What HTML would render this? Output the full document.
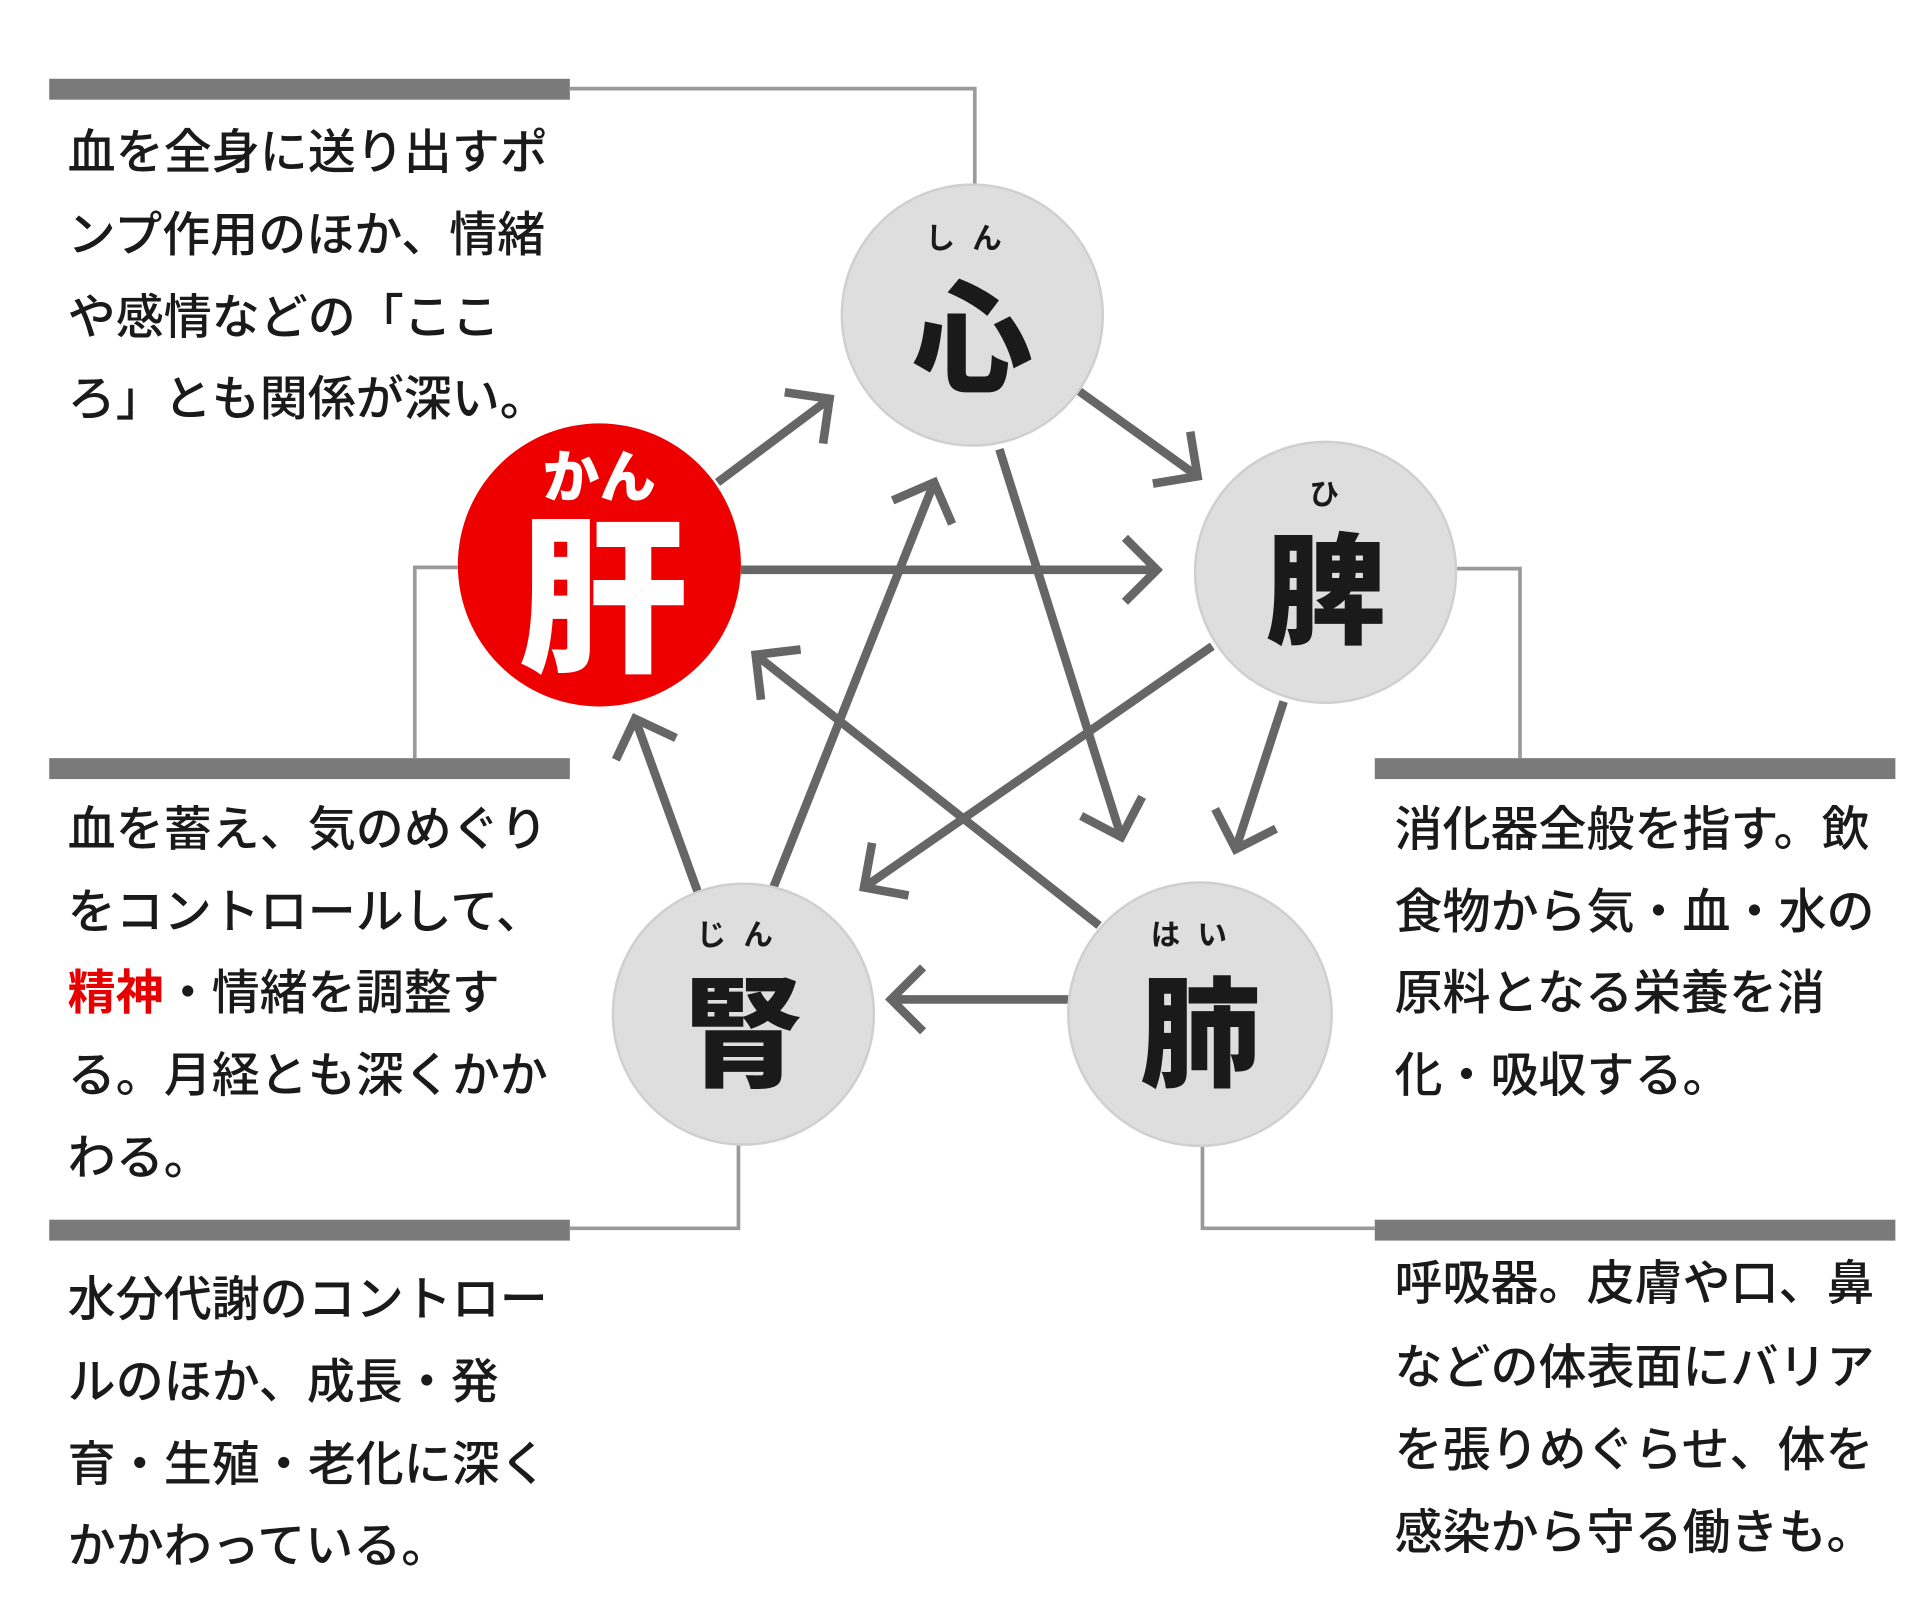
<!DOCTYPE html>
<html><head><meta charset="utf-8"><style>
html,body{margin:0;padding:0;background:#fff;width:1920px;height:1600px;overflow:hidden}
svg{display:block}
text{font-family:"Liberation Sans","Noto Sans CJK JP",sans-serif;}
.t{font-size:39px;font-weight:500;fill:#1a1a1a}
.k{font-size:98px;font-weight:900;fill:#1a1a1a}
.f{font-size:24px;font-weight:700;fill:#1a1a1a;letter-spacing:14px}
</style></head><body>
<svg width="1920" height="1600" viewBox="0 0 1560 1300" preserveAspectRatio="none" xmlns="http://www.w3.org/2000/svg">
<defs>
<marker id="a" markerUnits="userSpaceOnUse" markerWidth="60" markerHeight="60" refX="30" refY="30" orient="auto" viewBox="0 0 60 60">
<path d="M4 4 L30 30 L4 56" fill="none" stroke="#666" stroke-width="7"/>
</marker>
</defs>
<g fill="#7a7a7a">
<rect x="40" y="64" width="423" height="17"/>
<rect x="40" y="616" width="423" height="17"/>
<rect x="40" y="991" width="423" height="17"/>
<rect x="1117" y="616" width="423" height="17"/>
<rect x="1117" y="991" width="423" height="17"/>
</g>
<g fill="none" stroke="#9a9a9a" stroke-width="3">
<polyline points="463,72 792,72 792,152"/>
<polyline points="372,461 337,461 337,616"/>
<polyline points="463,998 600,998 600,930"/>
<polyline points="1182,462 1235,462 1235,616"/>
<polyline points="977,930 977,998 1117,998"/>
</g>
<g stroke="#666" stroke-width="7" fill="none" marker-end="url(#a)">
<line x1="583" y1="392" x2="674" y2="324"/>
<line x1="877" y1="318" x2="973" y2="387"/>
<line x1="602" y1="463" x2="940" y2="463"/>
<line x1="985" y1="525" x2="702" y2="721"/>
<line x1="1043" y1="570" x2="1004" y2="690"/>
<line x1="812" y1="365" x2="911" y2="680"/>
<line x1="893" y1="752" x2="614" y2="532"/>
<line x1="628" y1="722" x2="759" y2="392"/>
<line x1="567" y1="725" x2="516" y2="584"/>
<line x1="868" y1="812" x2="724" y2="812"/>
</g>
<g fill="#dedede" stroke="#cfcfcf" stroke-width="2">
<circle cx="790" cy="256" r="106"/>
<circle cx="1077" cy="465" r="106"/>
<circle cx="604" cy="824" r="106"/>
<circle cx="975" cy="824" r="107"/>
</g>
<circle cx="487" cy="459" r="115" fill="#ee0000"/>
<text class="f" x="752" y="202">しん</text>
<text class="k" x="790" y="310" text-anchor="middle">心</text>
<text class="f" x="1064" y="410">ひ</text>
<text class="k" x="1077" y="515" text-anchor="middle">脾</text>
<text class="f" x="566" y="768">じん</text>
<text class="k" x="604" y="875" text-anchor="middle">腎</text>
<text class="f" x="935" y="768">はい</text>
<text class="k" x="975" y="875" text-anchor="middle">肺</text>
<text x="487" y="404" text-anchor="middle" style="font-size:46px;font-weight:900;fill:#fff">かん</text>
<text x="490" y="535" text-anchor="middle" style="font-size:138px;font-weight:900;fill:#fff">肝</text>
<g class="t">
<text x="55" y="137">血を全身に送り出すポ</text>
<text x="55" y="204">ンプ作用のほか、情緒</text>
<text x="55" y="271">や感情などの「ここ</text>
<text x="55" y="337">ろ」とも関係が深い。</text>
<text x="55" y="687">血を蓄え、気のめぐり</text>
<text x="55" y="754">をコントロールして、</text>
<text x="55" y="820"><tspan fill="#e60000" font-weight="700">精神</tspan>・情緒を調整す</text>
<text x="55" y="887">る。月経とも深くかか</text>
<text x="55" y="954">わる。</text>
<text x="55" y="1069">水分代謝のコントロー</text>
<text x="55" y="1136">ルのほか、成長・発</text>
<text x="55" y="1203">育・生殖・老化に深く</text>
<text x="55" y="1269">かかわっている。</text>
<text x="1133" y="687">消化器全般を指す。飲</text>
<text x="1133" y="754">食物から気・血・水の</text>
<text x="1133" y="820">原料となる栄養を消</text>
<text x="1133" y="887">化・吸収する。</text>
<text x="1133" y="1056">呼吸器。皮膚や口、鼻</text>
<text x="1133" y="1124">などの体表面にバリア</text>
<text x="1133" y="1191">を張りめぐらせ、体を</text>
<text x="1133" y="1258">感染から守る働きも。</text>
</g>
</svg>
</body></html>
